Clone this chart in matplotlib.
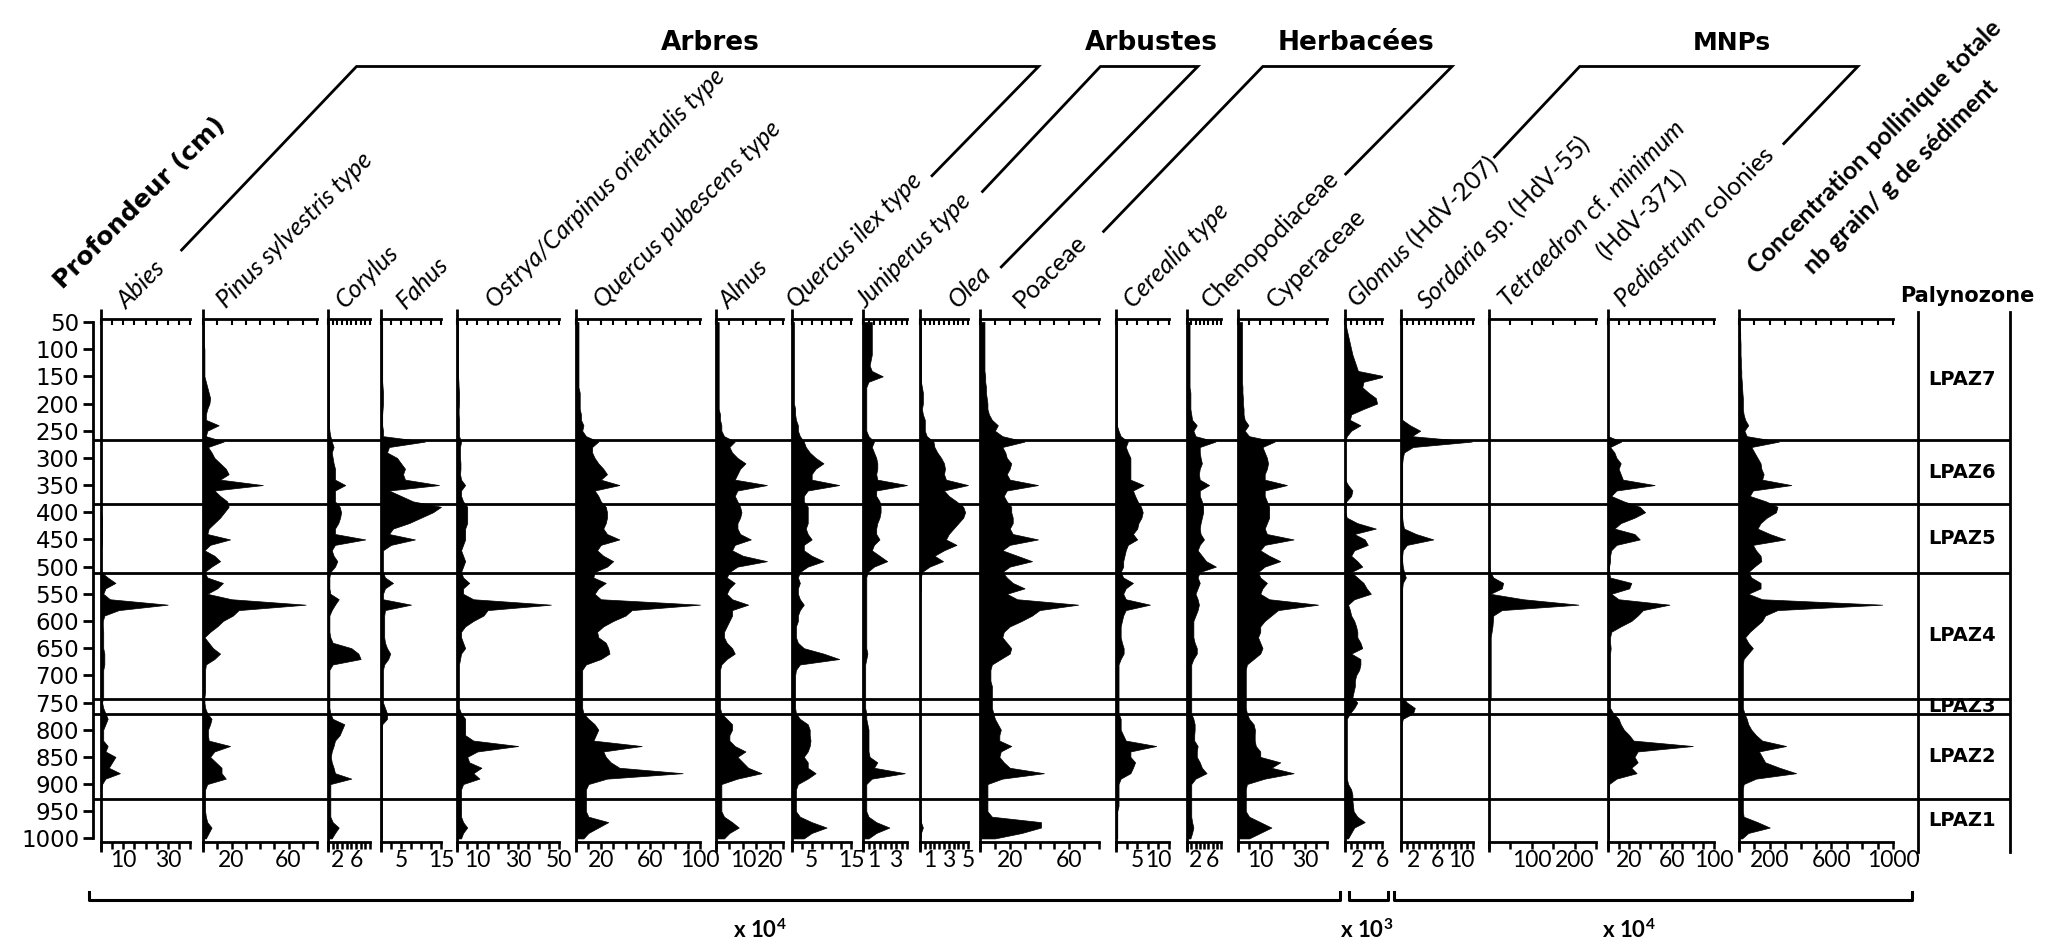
import numpy as np
import matplotlib
matplotlib.use("Agg")
import matplotlib.pyplot as plt

plt.rcParams['font.family'] = ['Lato', 'DejaVu Sans']
plt.rcParams['mathtext.fontset'] = 'custom'
plt.rcParams['mathtext.rm'] = 'Lato'
plt.rcParams['mathtext.it'] = 'Lato:italic'
plt.rcParams['mathtext.bf'] = 'Lato:bold'

# ---------------- data ----------------
DEPTH = np.arange(50, 1001, 10)          # cm
DEPTH_TICKS = list(range(50, 1001, 50))
ZONE_BOUNDS = [267, 385, 512, 743, 772, 927]
ZONE_LABELS = ["LPAZ7", "LPAZ6", "LPAZ5", "LPAZ4", "LPAZ3", "LPAZ2", "LPAZ1"]

abies = [
    0, 0, 0, 0, 0, 0, 0, 0, 0, 0,
    0, 0, 0, 0, 0, 0, 0, 0, 0, 0,
    0, 0, 0, 0, 0, 0, 0, 0, 0, 0,
    0, 0, 0, 0, 0, 0, 0.5, 0.5, 0.3, 0.5,
    0.5, 0.3, 0, 0, 0, 0, 0, 3, 6.5, 2,
    1, 4, 30, 8, 1.5, 0.8, 0.8, 1, 1, 1,
    1, 1.5, 1.5, 1.5, 1, 1, 1, 1, 1, 1,
    0.5, 1, 2, 3, 2, 1, 1, 1, 3, 2,
    6.5, 5, 3.5, 8.5, 2, 0.5, 0, 0, 0, 0,
    0, 0, 0, 0, 0, 0]
pinus = [
    0.5, 0.5, 0.5, 0.5, 0.5, 1, 1, 1, 1, 1,
    1, 2, 3, 4, 5, 4.5, 3, 2, 2, 11,
    3, 2, 14.5, 3.5, 6, 8, 12, 16, 18, 12,
    42, 8, 12, 17, 18, 15, 12, 8, 4, 3,
    19, 5, 1, 8, 12, 6, 1, 3, 14, 10,
    3, 20, 72, 25, 21, 14, 10, 5, 1, 4,
    7, 12, 8, 2, 1.5, 1.5, 1.5, 1.5, 1.5, 1,
    1, 1.5, 3, 6, 5, 3.5, 3.5, 4, 19, 8,
    5, 9, 13, 13, 16, 3, 1.5, 1.5, 1.5, 1.5,
    1.5, 2, 3, 6, 4, 2]
corylus = [
    0.2, 0.2, 0.2, 0.2, 0.2, 0.2, 0.2, 0.2, 0.2, 0.2,
    0.2, 0.2, 0.2, 0.2, 0.2, 0.2, 0.2, 0.2, 0.2, 0.2,
    0.3, 0.5, 0.8, 1.2, 0.8, 1, 1.2, 1.5, 1.5, 1.5,
    3.7, 1.5, 1.5, 1.5, 2.5, 2.8, 2.6, 2.2, 1.5, 1.5,
    8, 1.5, 0.8, 1.2, 2, 1.5, 0.5, 0.3, 0.3, 0.3,
    0.5, 2.3, 1.5, 0.8, 0.3, 0.3, 0.3, 0.3, 0.5, 1,
    5, 6.5, 7, 1, 0.3, 0.3, 0.3, 0.3, 0.3, 0.3,
    0.3, 0.3, 0.5, 1, 3.5, 3, 2.5, 1.5, 1.2, 0.8,
    0.6, 0.8, 1.2, 1.5, 5, 0.5, 0.5, 0.5, 0.5, 0.5,
    0.5, 0.5, 1, 2.3, 1.5, 0.8]
fahus = [
    0.3, 0.3, 0.3, 0.3, 0.3, 0.3, 0.3, 0.3, 0.3, 0.3,
    0.3, 0.3, 0.4, 0.5, 0.5, 0.5, 0.4, 0.3, 0.3, 0.3,
    0.5, 0.5, 11, 2, 1.5, 4, 5, 6, 5.5, 6,
    14.5, 2, 5, 8, 15, 13, 10, 7, 3, 2,
    8.5, 2.5, 0.5, 0.5, 0.5, 0.5, 0.5, 1, 3, 1,
    0.5, 0.5, 7.5, 1, 0.8, 0.8, 0.8, 0.8, 0.8, 1,
    1.5, 2.3, 1.8, 0.8, 0.5, 0.5, 0.5, 0.5, 0.5, 0.5,
    0.5, 1, 1.5, 1.5, 0.3, 0.2, 0.2, 0.2, 0.2, 0.2,
    0.2, 0.2, 0.2, 0.2, 0.2, 0.2, 0.2, 0.2, 0.2, 0.2,
    0.2, 0.2, 0.2, 0.2, 0.2, 0.2]
ostrya = [
    0.5, 0.5, 0.5, 0.5, 0.5, 0.5, 0.5, 0.5, 0.5, 0.5,
    0.5, 0.7, 0.8, 1, 1, 1, 0.8, 0.8, 1, 1,
    1, 1, 2, 1.5, 1.5, 1.5, 1.7, 1.7, 1.5, 2,
    4, 2, 2, 3, 5, 5, 5, 5, 4, 4,
    4, 3, 2, 3, 4, 3, 2, 3, 6, 3,
    3, 8, 46, 15, 13, 8, 4, 2, 2, 3,
    4, 2, 1.5, 1, 1, 1, 1, 1, 1, 1,
    1, 1, 2, 4, 4, 4, 4, 8, 30, 10,
    5, 6, 12, 8, 11, 3, 2, 2, 2, 2,
    2, 2, 3, 5, 3, 2]
quercus_pub = [
    2, 2, 2, 2, 2, 2, 2, 2, 2, 2,
    2, 2, 2, 3, 3, 3, 3, 4, 4, 6,
    5, 8, 18, 13, 13, 15, 18, 22, 25, 20,
    35, 15, 18, 20, 24, 25, 25, 24, 22, 25,
    35, 20, 17, 22, 30, 25, 15, 14, 24, 18,
    15, 20, 100, 45, 40, 30, 22, 17, 18, 24,
    26, 27, 20, 8, 5, 5, 5, 5, 5, 5,
    5, 5, 6, 10, 15, 18, 16, 14, 53, 22,
    24, 28, 35, 86, 25, 10, 8, 8, 8, 8,
    8, 10, 26, 18, 10, 6]
alnus = [
    1, 1, 1, 1, 1, 1, 1, 1, 1, 1,
    1, 1, 1, 1, 1, 1, 1, 1.5, 1.5, 2,
    2, 3, 7, 5, 6, 8, 11, 9, 8, 7,
    19, 8, 7, 8, 9, 9.5, 9, 8, 8, 9,
    13, 7, 6, 10, 19, 8, 5, 4, 7, 5,
    4, 6, 12, 6, 6, 5, 4, 3, 3, 4,
    6, 7, 4, 2, 1.5, 1.5, 1.5, 1.5, 1.5, 1.5,
    1.5, 1.5, 2, 4, 6, 6, 5, 5, 7, 11,
    8, 10, 12, 17, 8, 2, 2, 2, 2, 2,
    2, 3, 6, 8.5, 5, 3]
quercus_ilex = [
    0.5, 0.5, 0.5, 0.5, 0.5, 0.5, 0.5, 0.5, 0.5, 0.5,
    0.5, 0.5, 0.5, 0.5, 0.5, 0.5, 0.8, 0.8, 1, 1.5,
    1.5, 2, 3, 3.5, 4.5, 6, 8, 6, 5, 5,
    12, 4, 3, 3, 4, 4, 4, 4, 3.5, 4,
    5, 3, 3, 5, 8, 4, 2, 1.5, 2, 1.5,
    1.5, 2, 3, 2, 1.5, 1.5, 1, 1, 1, 1.5,
    3, 8, 12, 2, 1, 0.8, 0.8, 0.8, 0.8, 0.8,
    0.8, 0.8, 1, 2, 4, 4.5, 4.5, 4.7, 4.5, 4,
    3, 4, 4, 6, 4, 1.5, 1, 1, 1, 1,
    1, 2, 5, 8.8, 5, 3]
juniperus = [
    0.8, 0.8, 0.8, 0.8, 0.8, 0.8, 0.8, 0.7, 0.6, 0.8,
    1.8, 0.5, 0.3, 0.3, 0.3, 0.3, 0.3, 0.3, 0.3, 0.3,
    0.3, 0.5, 1, 0.8, 1, 1.2, 1.3, 1.3, 1.2, 1.3,
    4, 1.2, 1.2, 1.5, 1.6, 1.6, 1.5, 1.3, 1.2, 1.2,
    1.5, 1, 0.8, 1.5, 2.2, 1, 0.4, 0.3, 0.3, 0.3,
    0.3, 0.3, 0.3, 0.3, 0.3, 0.3, 0.3, 0.3, 0.3, 0.3,
    0.3, 0.4, 0.3, 0.2, 0.2, 0.2, 0.2, 0.2, 0.2, 0.2,
    0.2, 0.2, 0.3, 0.3, 0.4, 0.5, 0.5, 0.5, 0.5, 0.5,
    0.6, 1.3, 1, 3.8, 0.8, 0.3, 0.3, 0.3, 0.3, 0.3,
    0.3, 0.5, 1.2, 2.4, 1.2, 0.5]
olea = [
    0.1, 0.1, 0.1, 0.1, 0.1, 0.1, 0.1, 0.1, 0.1, 0.1,
    0.1, 0.1, 0.2, 0.3, 0.3, 0.3, 0.2, 0.3, 0.5, 0.5,
    0.5, 0.7, 1.4, 1.5, 1.8, 2.2, 2.5, 2.6, 2.5, 2.7,
    5, 2.5, 3, 3.8, 4.5, 4.7, 4.5, 4, 3.5, 3,
    2.7, 3.8, 2.5, 1.5, 2.4, 1, 0.2, 0.1, 0.1, 0.1,
    0.05, 0.05, 0.05, 0.05, 0.05, 0.05, 0.05, 0.05, 0.05, 0.05,
    0.05, 0.05, 0.05, 0.05, 0.05, 0.05, 0.05, 0.05, 0.05, 0.05,
    0.05, 0.05, 0.05, 0.05, 0.05, 0.05, 0.05, 0.05, 0.05, 0.05,
    0.05, 0.05, 0.05, 0.05, 0.05, 0.05, 0.05, 0.05, 0.05, 0.05,
    0.05, 0.05, 0.1, 0.3, 0.1, 0.05]
poaceae = [
    3, 3, 3, 3, 3, 3, 3, 3, 3, 3,
    3.5, 3.5, 4, 4, 4.5, 5, 5, 6, 8, 12,
    10, 15, 30, 15, 17, 18, 21, 20, 18, 20,
    39, 18, 16, 18, 21, 21, 22, 22, 20, 22,
    39, 20, 15, 25, 35, 20, 15, 18, 22, 30,
    18, 25, 66, 40, 35, 28, 20, 16, 15, 18,
    21, 20, 14, 8, 7, 7, 7, 8, 8, 8,
    8, 8, 9, 10, 12, 14, 13, 13, 21, 14,
    13, 16, 20, 43, 15, 5, 5, 5, 5, 5,
    5, 8, 41, 41, 28, 10]
cerealia = [
    0.2, 0.2, 0.2, 0.2, 0.2, 0.2, 0.2, 0.2, 0.2, 0.2,
    0.2, 0.2, 0.2, 0.2, 0.2, 0.2, 0.2, 0.2, 0.2, 0.2,
    0.6, 1.1, 2.8, 2.3, 2.8, 3.4, 3.4, 3.4, 3.4, 3.4,
    6.5, 4, 4.5, 5.1, 5.9, 6.3, 6, 5.3, 5, 4,
    5, 2.8, 2.3, 2, 1.7, 1.7, 1.1, 1.7, 4, 2.3,
    1.7, 2.3, 8, 2.3, 1.7, 1.4, 1.1, 1.1, 1.1, 1.4,
    1.8, 1.8, 1.1, 0.6, 0.6, 0.6, 0.6, 0.6, 0.6, 0.6,
    0.6, 0.6, 0.6, 1.1, 1.1, 1.1, 1.7, 2.3, 9.5, 3.4,
    3.4, 4.5, 4, 3.4, 1.1, 0.6, 0.6, 0.6, 0.6, 0.6,
    0.3, 0.3, 0.3, 0.3, 0.3, 0.3]
chenopodiaceae = [
    0.6, 0.6, 0.6, 0.6, 0.6, 0.6, 0.6, 0.6, 0.6, 0.6,
    0.6, 0.6, 0.6, 0.8, 0.8, 0.8, 0.8, 1, 1.2, 2.3,
    1.5, 2, 6.7, 3, 3, 3.2, 3.5, 3, 2.8, 3,
    5.2, 3, 3, 3.5, 3.8, 3.8, 3.5, 3.2, 3, 3.2,
    4, 3, 2.5, 3.5, 4.5, 6.8, 3, 2.5, 3, 2.5,
    2, 2.5, 2.8, 2.5, 2, 1.5, 1.5, 1.5, 1.5, 1.8,
    2.3, 2.3, 1.5, 1, 1, 1, 1, 1, 1, 1,
    1, 1, 1, 1.5, 1.8, 1.8, 1.7, 1.7, 2.5, 2.3,
    2.3, 3, 3.5, 4.6, 2, 1, 1, 1, 1, 1,
    1, 1, 1.2, 1.5, 1.2, 0.8]
cyperaceae = [
    1.8, 1.8, 1.8, 1.8, 1.8, 1.8, 1.8, 1.8, 1.8, 1.8,
    1.8, 1.8, 2, 2, 2.2, 2.2, 2.5, 2.5, 3, 4.7,
    3, 5, 16.5, 11, 12, 13, 13.5, 13, 12, 12,
    22, 12, 12, 13, 14, 14, 14, 13, 12, 13,
    25, 12, 10, 14, 19, 12, 9, 10, 13, 11,
    10, 14, 36, 18, 15, 12, 10, 10, 9, 10,
    11, 10, 7, 4, 3.5, 3.5, 3.5, 3.5, 3.5, 3.5,
    3.5, 3.5, 4, 5, 7, 7.6, 7.5, 7.5, 8, 10,
    10, 19, 15, 25, 12, 4, 3.5, 3.5, 3.5, 3.5,
    3.5, 5, 10, 15, 10, 5]
glomus = [
    0, 0.2, 0.4, 0.6, 0.8, 1, 1.2, 1.5, 1.8, 2.1,
    6.5, 3, 2.8, 3.8, 5, 5.2, 3, 1, 0.8, 2.5,
    1, 0.3, 0, 0, 0, 0, 0, 0, 0, 0,
    0.5, 1.2, 1, 0.2, 0, 0, 0.3, 2, 5, 1.5,
    3.2, 3.7, 1.5, 1, 2, 2.8, 1, 2, 3, 3.5,
    4.2, 1.5, 0.5, 0.8, 1, 1.5, 1.8, 2, 2, 2.5,
    2.8, 1, 2.5, 2.5, 2.3, 1.8, 1.6, 1.6, 1.4, 1.2,
    2, 1.5, 0.8, 0.3, 0.3, 0.3, 0.3, 0.3, 0.3, 0.3,
    0.3, 0.3, 0.3, 0.3, 0.3, 0.5, 1, 1.2, 1.2, 1.3,
    1.4, 2, 3.2, 1.5, 1, 0.5]
sordaria = [
    0.2, 0.2, 0.2, 0.2, 0.2, 0.2, 0.2, 0.2, 0.2, 0.2,
    0.2, 0.2, 0.2, 0.2, 0.2, 0.2, 0.2, 0.2, 0.2, 1.5,
    3.2, 1.8, 11.8, 2, 0.5, 0.3, 0.2, 0.2, 0.2, 0.2,
    0.2, 0.2, 0.2, 0.2, 0.2, 0.2, 0.2, 0.3, 0.5, 2.5,
    5.4, 1, 0.3, 0.2, 0.2, 0.3, 0.5, 0.8, 0.3, 0.2,
    0.2, 0.2, 0.2, 0.2, 0.2, 0.2, 0.2, 0.2, 0.2, 0.2,
    0.2, 0.2, 0.2, 0.2, 0.2, 0.2, 0.2, 0.2, 0.2, 0.2,
    1, 2.3, 2, 0.3, 0.1, 0.1, 0.1, 0.1, 0.1, 0.1,
    0.1, 0.1, 0.1, 0.1, 0.1, 0.1, 0.1, 0.1, 0.1, 0.1,
    0.1, 0.1, 0.1, 0.1, 0.1, 0.1]
tetraedron = [
    0, 0, 0, 0, 0, 0, 0, 0, 0, 0,
    0, 0, 0, 0, 0, 0, 0, 0, 0, 0,
    0, 0, 0, 0, 0, 0, 0, 0, 0, 0,
    0, 0, 0, 0, 0, 0, 0, 0, 0, 0,
    0, 0, 0, 0, 0, 0, 3, 10, 33, 30,
    3, 80, 209, 30, 10, 9, 8, 6, 4, 4,
    4, 4, 4, 4, 4, 4, 4, 4, 4, 4,
    0, 0, 0, 0, 0, 0, 0, 0, 0, 0,
    0, 0, 0, 0, 0, 0, 0, 0, 0, 0,
    0, 0, 0, 0, 0, 0]
pediastrum = [
    0, 0, 0, 0, 0, 0, 0, 0, 0, 0,
    0, 0, 0, 0, 0, 0, 0, 0, 0, 0,
    0, 0, 12.5, 2, 6, 8, 12, 10, 12, 14,
    44, 8, 3, 15, 30, 35, 25, 12, 6, 25,
    30, 8, 3, 2, 2, 1, 1, 2, 22, 20,
    3, 10, 58, 33, 28, 22, 12, 3, 2, 2,
    2.5, 2, 2, 2, 2, 2, 2, 2, 2, 2,
    2, 2, 5, 10, 12, 15, 20, 24, 80, 28,
    25, 28, 22, 27, 8, 1, 1, 1, 1, 1,
    1, 1, 1, 1, 1, 1]
concentration = [
    5, 5, 8, 8, 10, 10, 10, 12, 12, 15,
    15, 18, 20, 22, 25, 25, 25, 30, 40, 60,
    35, 50, 260, 80, 100, 120, 140, 145, 160, 150,
    340, 90, 70, 175, 250, 240, 180, 140, 120, 200,
    300, 90, 110, 140, 145, 100, 60, 80, 140, 140,
    60, 150, 930, 250, 170, 150, 110, 70, 40, 60,
    90, 60, 30, 25, 25, 25, 25, 25, 25, 25,
    25, 25, 35, 50, 60, 80, 110, 150, 306, 130,
    150, 170, 263, 371, 110, 30, 25, 25, 25, 25,
    25, 30, 120, 200, 60, 20]

SERIES = [abies, pinus, corylus, fahus, ostrya, quercus_pub, alnus, quercus_ilex,
          juniperus, olea, poaceae, cerealia, chenopodiaceae, cyperaceae, glomus,
          sordaria, tetraedron, pediastrum, concentration]

TAXA = [
    "Abies", "Pinus sylvestris type", "Corylus", "Fahus",
    "Ostrya/Carpinus orientalis type", "Quercus pubescens type", "Alnus",
    "Quercus ilex type", "Juniperus type", "Olea", "Poaceae", "Cerealia type",
    "Chenopodiaceae", "Cyperaceae", r"$\mathit{Glomus}$ (HdV-207)",
    r"$\mathit{Sordaria}$ sp. (HdV-55)", r"$\mathit{Tetraedron}$ cf. $\mathit{minimum}$",
    r"$\mathit{Pediastrum}$ colonies", "Concentration pollinique totale",
]
ITALIC = [True, True, True, True, True, True, True, True, True, True,
          False, True, False, False, False, False, False, False, False]

X_MAX = [40, 80, 9, 15, 50, 100, 25, 15, 4, 5, 80, 12.5, 8, 40, 6, 12, 250, 100, 1000]
TICK_LABELS = [[10, 30], [20, 60], [2, 6], [5, 15], [10, 30, 50], [20, 60, 100],
               [10, 20], [5, 15], [1, 3], [1, 3, 5], [20, 60], [5, 10], [2, 6],
               [10, 30], [2, 6], [2, 6, 10], [100, 200], [20, 60, 100],
               [200, 600, 1000]]

GROUPS = ["Arbres", "Arbustes", "Herbacées", "MNPs"]
SCALES = ["4", "3", "4"]

# ---------------- layout (pixels) ----------------
W, H = 2060, 943
Y_TOP, Y_BOT = 319.0, 841.7
D_TOP, D_BOT = 44.5, 1006.0
PX_PER_CM = (Y_BOT - Y_TOP) / (D_BOT - D_TOP)

PANEL_X = [(101, 190), (203, 317), (328, 370), (381, 441), (457, 559), (576, 700),
           (716, 783), (792, 851), (863, 907), (920, 968), (980, 1099),
           (1116, 1169), (1187, 1221), (1238, 1327), (1345, 1382), (1401, 1473),
           (1489, 1596), (1608, 1714), (1739, 1893)]
TICK_STEP = [5, 10, 1, 2.5, 5, 10, 5, 2.5, 0.5, 0.5, 10, 2.5, 1, 5, 1, 1, 50, 10, 100]
LABEL_XY = [(127, 310), (226, 309), (345, 309), (406, 310), (495, 309), (603, 309),
            (729, 310), (796, 309), (866, 309), (958, 309), (1023, 309), (1133, 309),
            (1211, 309), (1276, 309), (1357, 309), (1427, 311), (1508, 309),
            (1624, 309), (1757, 275)]
SPACED = ['DejaVu Sans']   # wide face standing in for the letter-spaced headings

LW = 2.0
fig = plt.figure(figsize=(W / 100, H / 100), dpi=100)


def rect(x0, x1):
    return [x0 / W, (H - Y_BOT) / H, (x1 - x0) / W, (Y_BOT - Y_TOP) / H]


def px2depth(y):
    return D_TOP + (y - Y_TOP) / PX_PER_CM


# overlay in pixel coordinates
ov = fig.add_axes([0, 0, 1, 1], zorder=0)
ov.set_xlim(0, W)
ov.set_ylim(H, 0)
ov.set_axis_off()

# depth axis + zone lines
ax0 = fig.add_axes(rect(93, 2010), zorder=1)
ax0.patch.set_alpha(0)
ax0.set_xlim(0, 1)
ax0.set_ylim(D_BOT, D_TOP)
for s in ["top", "right", "bottom"]:
    ax0.spines[s].set_visible(False)
ax0.spines["left"].set_bounds(DEPTH_TICKS[0], DEPTH_TICKS[-1])
ax0.spines["left"].set_linewidth(LW)
ax0.set_xticks([])
ax0.set_yticks(DEPTH_TICKS)
ax0.set_yticklabels([str(d) for d in DEPTH_TICKS], family=SPACED, fontsize=16.5)
ax0.tick_params(axis="y", direction="out", length=7, width=LW, pad=3)
for d in ZONE_BOUNDS:
    ax0.axhline(d, color="black", lw=2.0)


def fmt(v):
    return str(int(v)) if float(v).is_integer() else str(v)


for i, vals in enumerate(SERIES):
    x0, x1 = PANEL_X[i]
    ax = fig.add_axes(rect(x0, x1), zorder=2)
    ax.patch.set_alpha(0)
    ax.set_xlim(0, X_MAX[i])
    ax.set_ylim(D_BOT, D_TOP)
    ax.fill_betweenx(DEPTH, 0, vals, facecolor="black", edgecolor="black", lw=0.5)
    for s in ["left", "right", "top"]:
        ax.spines[s].set_visible(False)
    ax.spines["bottom"].set_linewidth(LW)
    ticks = np.arange(0, X_MAX[i] + 1e-9, TICK_STEP[i])
    ax.set_xticks(ticks)
    ax.set_xticklabels([fmt(t) if any(abs(t - l) < 1e-9 for l in TICK_LABELS[i]) else ""
                        for t in ticks])
    ax.tick_params(axis="x", direction="out", length=5, width=1.8, labelsize=16.5, pad=1)
    ax.set_yticks([])
    sec = ax.secondary_xaxis("top")
    sec.set_xticks(ticks)
    sec.set_xticklabels([])
    sec.tick_params(direction="in", length=4, width=1.5)
    sec.spines["top"].set_linewidth(LW)
    ax.plot([0, 0], [px2depth(852), px2depth(309)], color="black", lw=LW,
            clip_on=False, solid_capstyle="butt")
    lx, ly = LABEL_XY[i]
    if i == len(SERIES) - 1:
        ov.text(lx, ly, TAXA[i], rotation=45, rotation_mode="anchor", ha="left",
                va="baseline", fontsize=18, fontweight="bold")
        ov.text(1813, 275, "nb grain/ g de sédiment", rotation=45, rotation_mode="anchor",
                ha="left", va="baseline", fontsize=18, fontweight="bold")
    else:
        ov.text(lx, ly, TAXA[i], rotation=45, rotation_mode="anchor", ha="left",
                va="baseline", fontsize=18, style="italic" if ITALIC[i] else "normal")
ov.text(1606, 260, "(HdV-371)", rotation=45, rotation_mode="anchor", ha="left",
        va="baseline", fontsize=18)

# palynozone column
axz = fig.add_axes(rect(1918, 2010), zorder=2)
axz.patch.set_alpha(0)
axz.set_xlim(0, 1)
axz.set_ylim(D_BOT, D_TOP)
axz.set_axis_off()
for xx in (0, 1):
    axz.plot([xx, xx], [px2depth(852), px2depth(312)], color="black", lw=LW, clip_on=False)
edges = [D_TOP] + ZONE_BOUNDS + [D_BOT]
for k, lab in enumerate(ZONE_LABELS):
    axz.text(0.48, (edges[k] + edges[k + 1]) / 2, lab, ha="center", va="center",
             fontsize=14, fontweight="bold", family=SPACED)
ov.text(1967, 302, "Palynozone", ha="center", va="baseline", fontsize=15,
        fontweight="bold", family=SPACED)

# depth title
ov.text(63, 290, "Profondeur (cm)", rotation=45, rotation_mode="anchor", ha="left",
        va="baseline", fontsize=18, fontweight="bold", family=SPACED)

# group brackets
BRACKETS = [[(181.6, 250), (356.5, 66.5), (1038.6, 66.5), (932, 175.7)],
            [(982.5, 191.5), (1100.4, 66.5), (1197.8, 66.5), (1001.3, 266.9)],
            [(1103.6, 231.4), (1262.8, 66.5), (1452, 66.5), (1345.7, 174)],
            [(1494.5, 157), (1579.7, 66.5), (1857.8, 66.5), (1783.8, 143.6)]]
TITLE_XY = [(710, 43), (1151, 43), (1356, 43), (1732, 43)]
TITLE_SIZE = [19, 19, 19, 18]
for pts, title, (tx, ty), fs in zip(BRACKETS, GROUPS, TITLE_XY, TITLE_SIZE):
    xs, ys = zip(*pts)
    ov.plot(xs, ys, color="black", lw=2.0, solid_joinstyle="miter")
    ov.text(tx, ty, title, ha="center", va="center", fontsize=fs, fontweight="bold",
            family=SPACED)

# concentration scale brackets
SCALE_SPANS = [(89, 1340), (1349, 1388), (1394, 1912)]
SCALE_LABEL_X = [760, 1367, 1629]
for (a, b), sc, lx in zip(SCALE_SPANS, SCALES, SCALE_LABEL_X):
    ov.plot([a, a, b, b], [892, 900, 900, 892], color="black", lw=2.2)
    ov.text(lx, 930, r"x 10$^{\mathbf{%s}}$" % sc, ha="center", va="center",
            fontsize=16, fontweight="bold")

fig.savefig("out.png", dpi=100)
